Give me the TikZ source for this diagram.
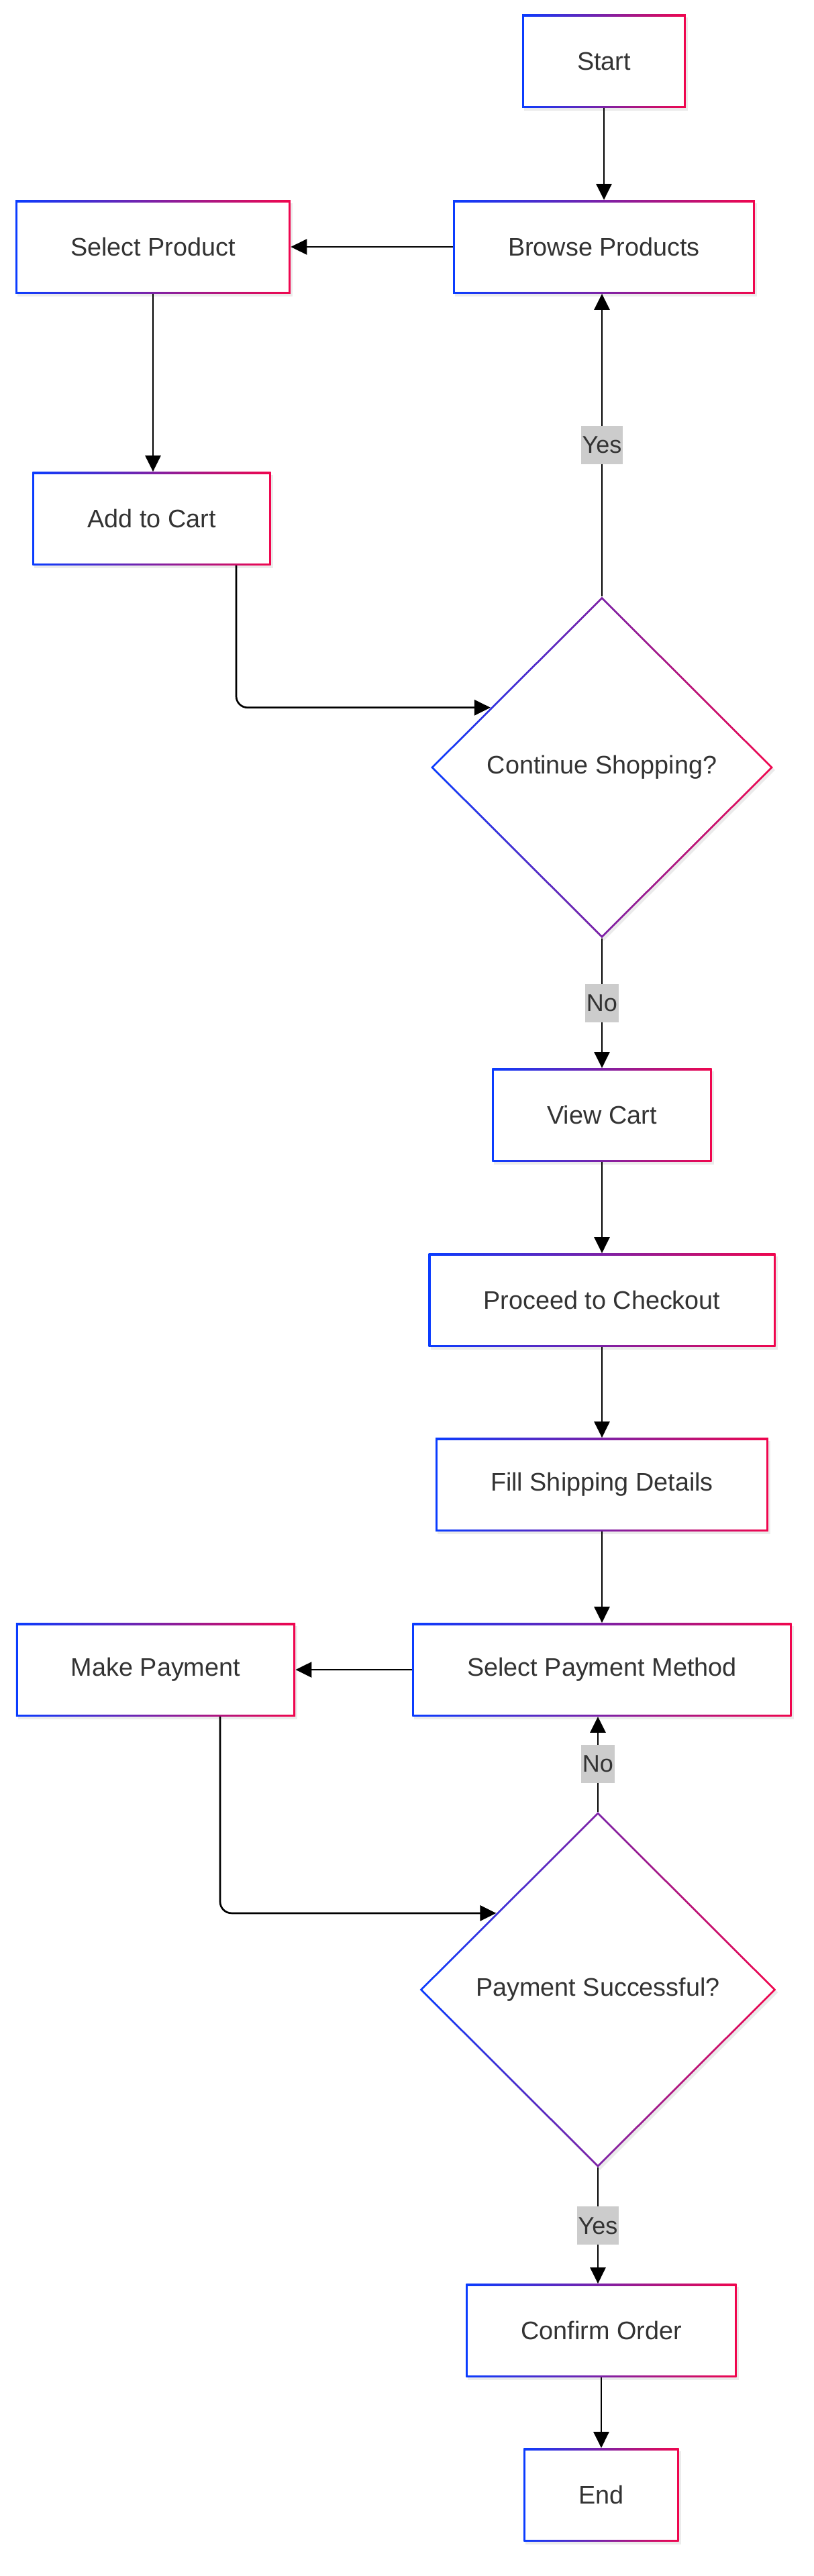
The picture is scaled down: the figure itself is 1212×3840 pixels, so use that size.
\documentclass[tikz,border=0pt]{standalone}
\usepackage{fontspec}
\setmainfont{Liberation Sans}
\usepackage{xcolor}
\usetikzlibrary{arrows.meta, shapes.geometric, shadows, calc}

\definecolor{edgeblue}{HTML}{0A3CFF}
\definecolor{edgered}{HTML}{F0064E}
\definecolor{txtgray}{HTML}{333333}
\definecolor{labelgray}{HTML}{CCCCCC}

\tikzset{
  stepbox/.style={rectangle, minimum height=69.5pt, inner xsep=41pt,
    text=txtgray, font=\fontsize{18.9}{22.7}\selectfont,
    drop shadow={shadow xshift=1.5pt, shadow yshift=-2pt, opacity=0.08, fill=black},
    path picture={
      \shade[left color=edgeblue, right color=edgered]
        (path picture bounding box.south west) rectangle (path picture bounding box.north east);
      \fill[white] ([shift={(1.5pt,1.5pt)}]path picture bounding box.south west)
        rectangle ([shift={(-1.5pt,-1.5pt)}]path picture bounding box.north east);
    }},
  decision/.style={diamond, aspect=1, inner sep=0pt,
    text=txtgray, font=\fontsize{18.9}{22.7}\selectfont,
    drop shadow={shadow xshift=1.5pt, shadow yshift=-2pt, opacity=0.08, fill=black},
    path picture={
      \shade[left color=edgeblue, right color=edgered]
        (path picture bounding box.south west) rectangle (path picture bounding box.north east);
      \fill[white] ([yshift=-2pt]path picture bounding box.north)
        -- ([xshift=-2pt]path picture bounding box.east)
        -- ([yshift=2pt]path picture bounding box.south)
        -- ([xshift=2pt]path picture bounding box.west) -- cycle;
    }},
  flow/.style={draw=black, line width=1.35pt, -{Triangle[length=12pt, width=11.5pt]}},
  edgelabel/.style={fill=labelgray, text=txtgray, font=\fontsize{18}{21.6}\selectfont,
    inner xsep=1pt, inner ysep=0pt, minimum height=28.5pt}
}

\begin{document}
\begin{tikzpicture}[x=0.5pt, y=-0.5pt]
    \useasboundingbox (0,0) rectangle (1212,3840);

    % Shopping part
    \node[stepbox] (start) at (900,91) {Start};
    \node[stepbox] (browse) at (900,368) {Browse Products};
    \node[stepbox] (select) at (228,368) {Select Product};
    \node[stepbox] (addcart) at (226,773) {Add to Cart};
    \node[decision, minimum width=255pt, minimum height=254.5pt] (contshop) at (897,1144) {Continue Shopping?};

    % Checkout part
    \node[stepbox] (viewcart) at (897,1662) {View Cart};
    \node[stepbox] (checkout) at (897,1938) {Proceed to Checkout};
    \node[stepbox] (shipping) at (897,2213) {Fill Shipping Details};
    \node[stepbox] (paymethod) at (897,2489) {Select Payment Method};
    \node[stepbox] (makepay) at (232,2489) {Make Payment};
    \node[decision, minimum width=265.5pt, minimum height=265pt] (paysuccess) at (891,2966) {Payment Successful?};
    \node[stepbox] (confirm) at (896,3474) {Confirm Order};
    \node[stepbox] (finish) at (896,3719) {End};

    % Connectors, shopping loop
    \draw[flow] (start) -- (browse);
    \draw[flow] (browse.west) -- (select.east);
    \draw[flow] (select.south) -- (select.south |- addcart.north);
    \draw[flow, rounded corners=8.5pt] ([xshift=63pt]addcart.south) |- ($(contshop.west)!0.35!(contshop.north)$);
    \draw[flow] (contshop.north) -- node[edgelabel] {Yes} (contshop.north |- browse.south);
    \draw[flow] (contshop) -- node[edgelabel] {No} (viewcart);

    % Connectors, checkout
    \draw[flow] (viewcart) -- (checkout);
    \draw[flow] (checkout) -- (shipping);
    \draw[flow] (shipping) -- (paymethod);
    \draw[flow] (paymethod.west) -- (makepay.east);
    \draw[flow, rounded corners=8.5pt] ([xshift=48pt]makepay.south) |- ($(paysuccess.west)!0.43!(paysuccess.north)$);
    \draw[flow] (paysuccess.north) -- node[edgelabel] {No} (paysuccess.north |- paymethod.south);
    \draw[flow] (paysuccess.south) -- node[edgelabel] {Yes} (paysuccess.south |- confirm.north);
    \draw[flow] (confirm) -- (finish);
\end{tikzpicture}
\end{document}
